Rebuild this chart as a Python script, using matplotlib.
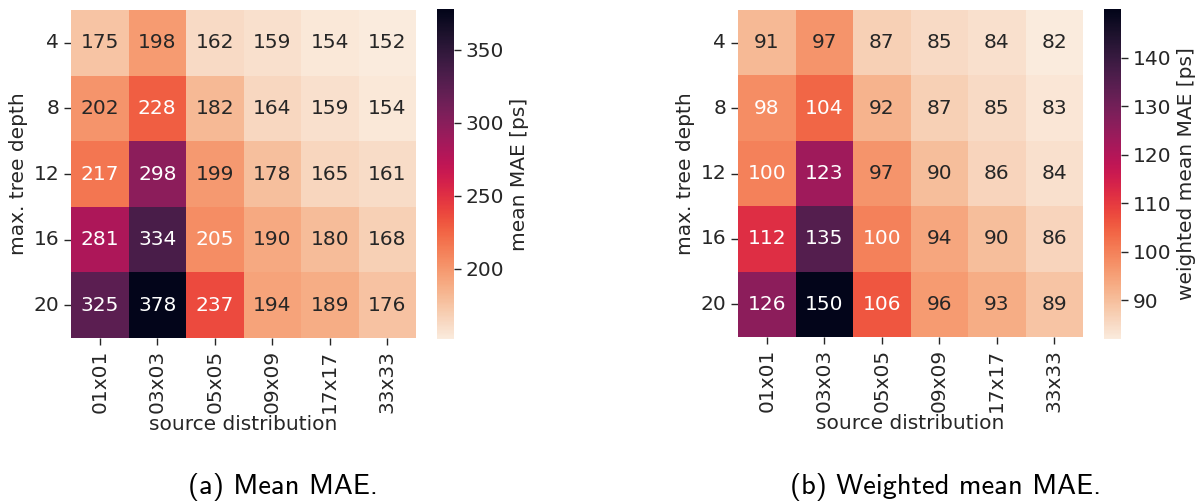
import numpy as np
import matplotlib
matplotlib.use("Agg")
import matplotlib.pyplot as plt
import seaborn as sns

sns.set_theme(style="ticks")
plt.rcParams['font.family'] = ['DejaVu Sans']

depths = ["4", "8", "12", "16", "20"]
sources = ["01x01", "03x03", "05x05", "09x09", "17x17", "33x33"]

mean_mae = np.array([
    [175, 198, 162, 159, 154, 152],
    [202, 228, 182, 164, 159, 154],
    [217, 298, 199, 178, 165, 161],
    [281, 334, 205, 190, 180, 168],
    [325, 378, 237, 194, 189, 176],
])
weighted_mae = np.array([
    [91, 97, 87, 85, 84, 82],
    [98, 104, 92, 87, 85, 83],
    [100, 123, 97, 90, 86, 84],
    [112, 135, 100, 94, 90, 86],
    [126, 150, 106, 96, 93, 89],
])
cbar_ticks = [[200, 250, 300, 350], [90, 100, 110, 120, 130, 140]]
cbar_labels = ["mean MAE [ps]", "weighted mean MAE [ps]"]
captions = ["(a) Mean MAE.", "(b) Weighted mean MAE."]

W, H = 1198, 501
fig = plt.figure(figsize=(W / 100, H / 100), dpi=100)

def ax_px(x0, y0, x1, y1):
    return fig.add_axes([x0 / W, 1 - y1 / H, (x1 - x0) / W, (y1 - y0) / H])

layouts = [
    ((71, 10, 416, 338), (437, 9, 454, 339), 283),
    ((738, 10, 1083, 337), (1104, 9, 1121, 339), 946),
]
datasets = [mean_mae, weighted_mae]

fs = 14.5
for data, (hbox, cbox, capx), ticks, clab, cap in zip(datasets, layouts, cbar_ticks,
                                                      cbar_labels, captions):
    ax = ax_px(*hbox)
    cax = ax_px(*cbox)
    sns.heatmap(data, ax=ax, cbar_ax=cax, cmap="rocket_r", annot=True, fmt="d",
                annot_kws={"fontsize": fs},
                xticklabels=sources, yticklabels=depths,
                cbar_kws={"label": clab, "ticks": ticks})
    ax.tick_params(axis="both", labelsize=fs, length=5, width=1.0, color="#262626")
    ax.set_xticklabels(sources, rotation=90)
    ax.set_yticklabels(depths, rotation=0)
    ax.set_xlabel("source distribution", fontsize=fs, labelpad=1)
    ax.set_ylabel("max. tree depth", fontsize=fs)
    cax.tick_params(labelsize=fs, length=5, width=1.0, color="#262626")
    cax.set_ylabel(clab, fontsize=fs)
    fig.text(capx / W, 1 - 487 / H, cap, ha="center", va="center",
             fontsize=20.5, family="cmss10", color="black")

fig.savefig("out.png", dpi=100)
